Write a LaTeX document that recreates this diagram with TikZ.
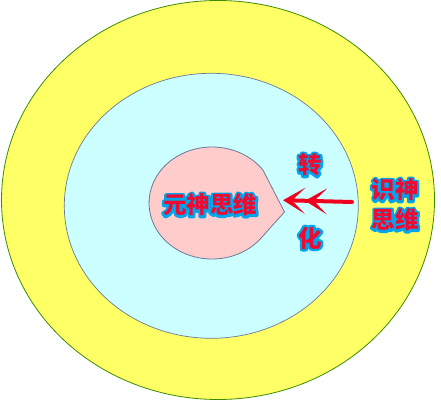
\documentclass[tikz,border=0pt]{standalone}
\usepackage{fontspec}
\usetikzlibrary{arrows.meta}
\newfontfamily\cjk{Noto Sans CJK SC}
\definecolor{ylw}{RGB}{255,255,102}
\definecolor{ygreen}{RGB}{60,140,0}
\definecolor{lcyan}{RGB}{204,255,255}
\definecolor{lborder}{RGB}{110,120,150}
\definecolor{lpink}{RGB}{255,204,204}
\definecolor{txtred}{RGB}{240,10,50}
\definecolor{glowblue}{RGB}{0,165,235}
\definecolor{arrred}{RGB}{240,0,30}
\newcommand{\glowtxt}[1]{\rlap{\textcolor{glowblue}{\special{pdf:literal 1 Tr 4.6 w 1 j}#1\special{pdf:literal 0 Tr}}}\textcolor{txtred}{#1}}
\tikzset{
  lbl/.style={font=\cjk\bfseries\fontsize{23.5}{30}\selectfont, inner sep=0pt, align=center},
}
\begin{document}
\begin{tikzpicture}[x=1pt,y=1pt]
\useasboundingbox (0,0) rectangle (441,401);
\fill[white] (0,0) rectangle (441,401);
% outer ellipse
\draw[ygreen, line width=0.8pt, fill=ylw] (218,201) ellipse [x radius=216.5, y radius=199.5];
% middle ellipse
\draw[lborder, line width=0.7pt, fill=lcyan] (211.3,195.2) ellipse [x radius=147, y radius=132.5];
% inner teardrop
\draw[lborder, line width=0.8pt, fill=lpink] (284.5,189) -- (263,230.9)
  arc[start angle=36, end angle=324, x radius=63, y radius=56] -- cycle;
% labels
\node[lbl] (yuan) at (210,196) {\glowtxt{元神思维}};
\node[lbl] (zhuan) at (310,236) {\glowtxt{转}};
\node[lbl] (hua) at (310,163) {\glowtxt{化}};
\node[lbl] (shi1) at (395,211) {\glowtxt{识神}};
\node[lbl] (shi2) at (395,181) {\glowtxt{思维}};
% arrow
\coordinate (astart) at (352,199);
\coordinate (aend) at (295,200.5);
\draw[arrred, line width=4pt, line cap=round,
  -{Stealth[length=22pt,width=26pt,inset=13pt]Stealth[length=22pt,width=26pt,inset=13pt,sep=-12pt]}]
  (astart) -- (aend);
\end{tikzpicture}
\end{document}
